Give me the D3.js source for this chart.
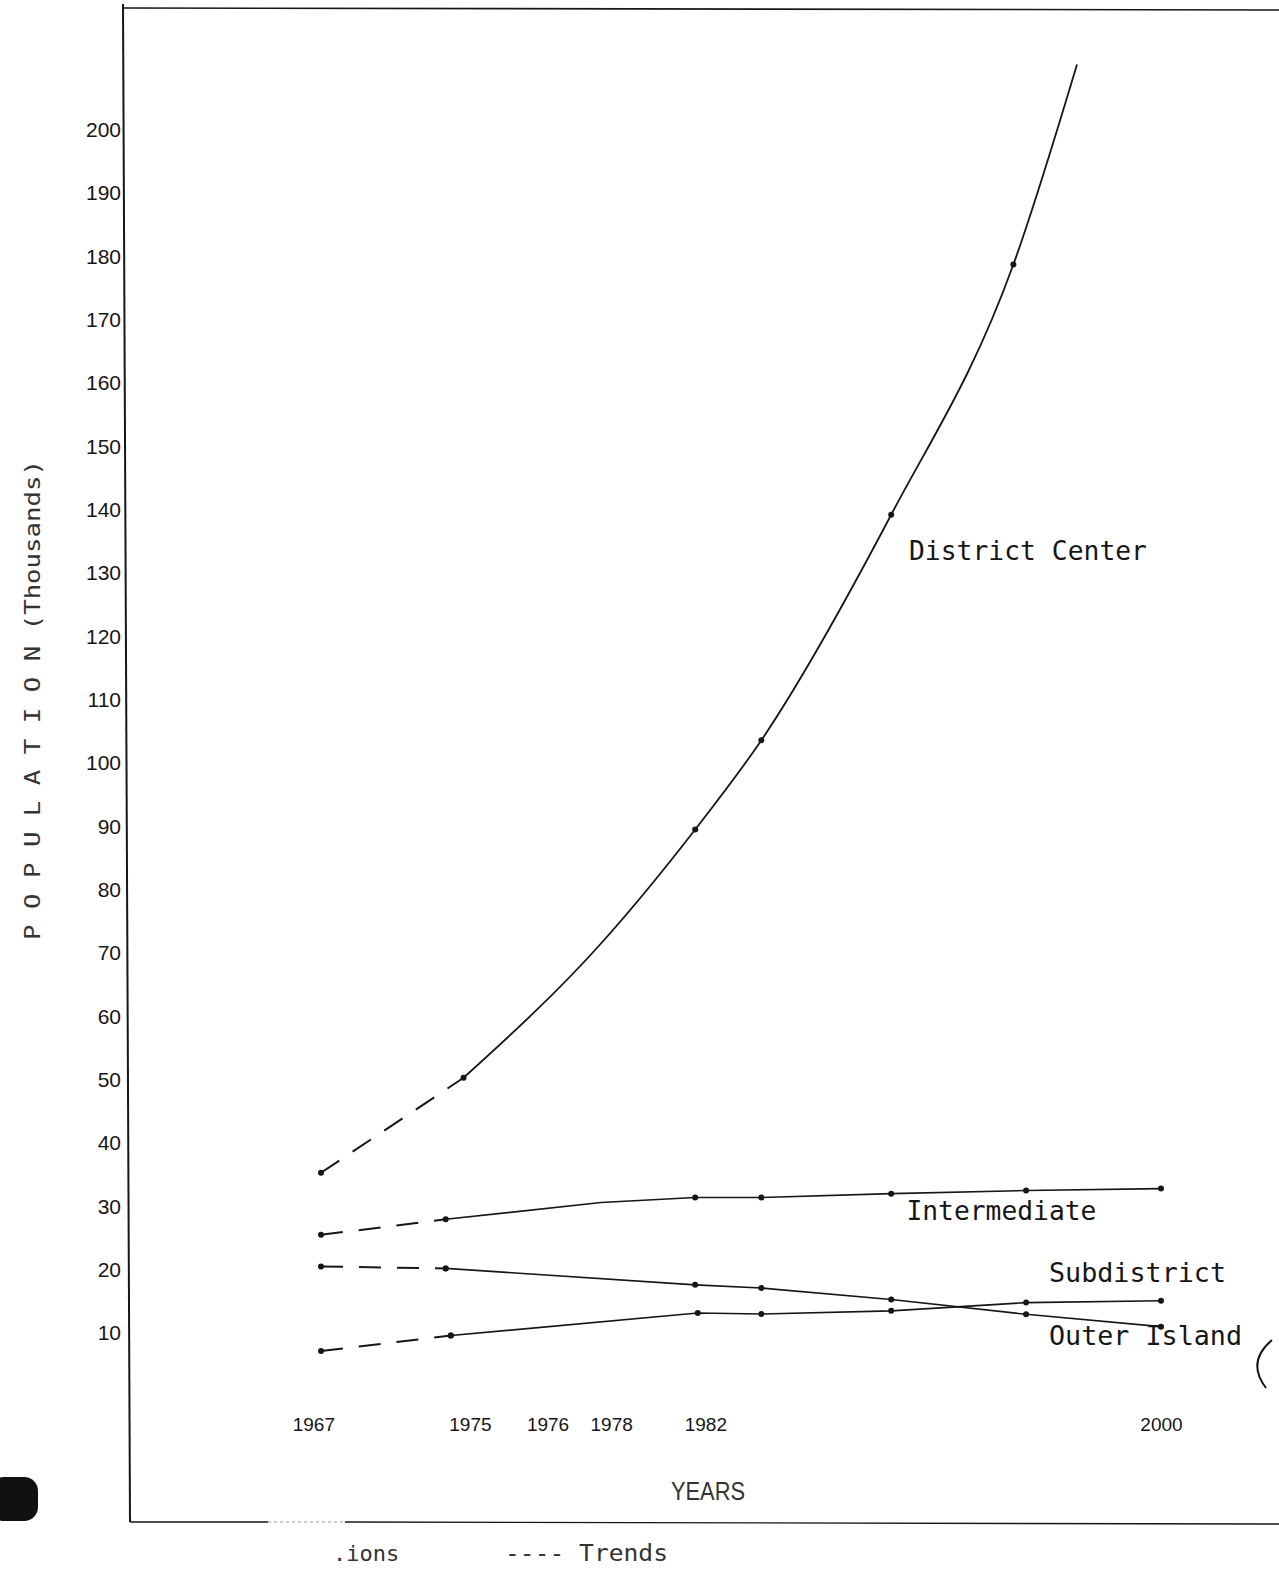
<!DOCTYPE html>
<html>
<head>
<meta charset="utf-8">
<script src="https://cdn.jsdelivr.net/npm/d3@7"></script>
<style>
  body { margin: 0; background: #fff; }
  svg { display: block; }
</style>
</head>
<body>
<script>
// values (population in thousands)
let yTicks = [10, 20, 30, 40, 50, 60, 70, 80, 90, 100, 110, 120, 130, 140, 150, 160, 170, 180, 190, 200];
let xTickYears = [1966.7, 1972.85, 1975.9, 1978.4, 1982.1, 2000];
let xTickLabels = ["1967", "1975", "1976", "1978", "1982", "2000"];

// District Center
let districtTrendYears = [1967, 1972.6];
let districtTrendValues = [35.3, 50.3];
let districtYears = [1972.6, 1978, 1981.7, 1984.3, 1989.4, 1994.2, 1996.7];
let districtValues = [50.3, 71.5, 89.5, 103.6, 139.2, 178.7, 210.3];
let districtMarked = [1972.6, 1981.7, 1984.3, 1989.4, 1994.2];

// Intermediate
let interTrendYears = [1967, 1971.9];
let interTrendValues = [25.5, 27.95];
let interYears = [1971.9, 1978, 1981.7, 1984.3, 1989.4, 1994.7, 2000];
let interValues = [27.95, 30.6, 31.4, 31.4, 32.0, 32.5, 32.8];
let interMarked = [1971.9, 1981.7, 1984.3, 1989.4, 1994.7, 2000];

// Subdistrict
let subTrendYears = [1967, 1972.1];
let subTrendValues = [7.15, 9.6];
let subYears = [1972.1, 1981.8, 1984.3, 1989.4, 1994.7, 2000];
let subValues = [9.6, 13.15, 13.0, 13.5, 14.8, 15.1];

// Outer Island
let outerTrendYears = [1967, 1971.9];
let outerTrendValues = [20.5, 20.2];
let outerYears = [1971.9, 1981.7, 1984.3, 1989.4, 1994.7, 2000];
let outerValues = [20.2, 17.6, 17.1, 15.3, 12.95, 11.0];

let labelTexts = ["District Center", "Intermediate", "Subdistrict", "Outer Island"];
let labelYears = [1990.1, 1990.0, 1995.6, 1995.6];
let labelValues = [132.1, 27.8, 18.0, 8.1];
let labelWidths = [238, 190, 177, 193];


function zip(xs, ys)
{
    return xs.map((x, i) => ({year: x, value: ys[i]}));
}


let width = 1279, height = 1569;
let frameLeft = 124, frameTop = 8, frameBottom = 1522;
let ink = "#161616";

let svg = d3.select("body").append("svg")
    .attr("width", width)
    .attr("height", height);

let x = d3.scaleLinear().domain([1967, 2000]).range([321, 1161]);
let y = d3.scaleLinear().domain([-20, 220]).range([1523, 3]);

// frame (hand ruled, the left edge leans a little)
svg.append("line")
    .attr("x1", frameLeft - 1).attr("y1", 4)
    .attr("x2", frameLeft + 6).attr("y2", frameBottom)
    .attr("stroke", ink).attr("stroke-width", 2);
svg.append("line")
    .attr("x1", frameLeft - 1).attr("y1", frameTop)
    .attr("x2", width).attr("y2", frameTop + 2)
    .attr("stroke", ink).attr("stroke-width", 1.6);
svg.append("line")
    .attr("x1", frameLeft + 6).attr("y1", frameBottom)
    .attr("x2", 268).attr("y2", frameBottom)
    .attr("stroke", ink).attr("stroke-width", 1.6);
svg.append("line")
    .attr("x1", 268).attr("y1", frameBottom)
    .attr("x2", 345).attr("y2", frameBottom)
    .attr("stroke", "#999").attr("stroke-width", 1)
    .attr("stroke-dasharray", "3,3");
svg.append("line")
    .attr("x1", 345).attr("y1", frameBottom)
    .attr("x2", width).attr("y2", frameBottom + 2)
    .attr("stroke", ink).attr("stroke-width", 1.4);

// y axis labels
let yAxis = d3.axisLeft(y).tickValues(yTicks).tickSize(0).tickPadding(0);
svg.append("g")
    .attr("transform", "translate(121,0)")
    .call(yAxis)
    .call(g => g.select(".domain").remove())
    .selectAll("text")
    .attr("font-family", "Liberation Sans, sans-serif")
    .attr("font-size", 21)
    .attr("fill", ink);

// x axis labels
let xAxis = d3.axisBottom(x).tickValues(xTickYears)
    .tickFormat((d, i) => xTickLabels[i]).tickSize(0).tickPadding(0);
svg.append("g")
    .attr("transform", "translate(0,1417)")
    .call(xAxis)
    .call(g => g.select(".domain").remove())
    .selectAll("text")
    .attr("font-family", "Liberation Sans, sans-serif")
    .attr("font-size", 19)
    .attr("fill", ink);

// lines
let straight = d3.line().x(d => x(d.year)).y(d => y(d.value));
let smooth = d3.line().x(d => x(d.year)).y(d => y(d.value)).curve(d3.curveMonotoneX);

let trends = [
    zip(districtTrendYears, districtTrendValues),
    zip(interTrendYears, interTrendValues),
    zip(subTrendYears, subTrendValues),
    zip(outerTrendYears, outerTrendValues)
];
svg.selectAll("path.trend")
    .data(trends)
    .enter()
    .append("path")
    .attr("class", "trend")
    .attr("d", straight)
    .attr("fill", "none")
    .attr("stroke", ink)
    .attr("stroke-width", 2)
    .attr("stroke-dasharray", "22,16");

svg.append("path")
    .attr("d", smooth(zip(districtYears, districtValues)))
    .attr("fill", "none")
    .attr("stroke", ink)
    .attr("stroke-width", 1.8);

let projections = [
    zip(interYears, interValues),
    zip(subYears, subValues),
    zip(outerYears, outerValues)
];
svg.selectAll("path.proj")
    .data(projections)
    .enter()
    .append("path")
    .attr("class", "proj")
    .attr("d", straight)
    .attr("fill", "none")
    .attr("stroke", ink)
    .attr("stroke-width", 1.6);

// dots
let dots = [];
zip(districtYears, districtValues).filter(d => districtMarked.includes(d.year)).forEach(d => dots.push(d));
zip(interYears, interValues).filter(d => interMarked.includes(d.year)).forEach(d => dots.push(d));
dots.push(zip(interTrendYears, interTrendValues)[0]);
dots.push(zip(districtTrendYears, districtTrendValues)[0]);
zip(subTrendYears, subTrendValues).concat(zip(subYears, subValues)).forEach(d => dots.push(d));
zip(outerTrendYears, outerTrendValues).concat(zip(outerYears, outerValues)).forEach(d => dots.push(d));

svg.selectAll("circle.dot")
    .data(dots)
    .enter()
    .append("circle")
    .attr("class", "dot")
    .attr("cx", d => x(d.year))
    .attr("cy", d => y(d.value))
    .attr("r", 3)
    .attr("fill", ink);

// series labels
svg.selectAll("text.series")
    .data(labelTexts)
    .enter()
    .append("text")
    .attr("class", "series")
    .attr("x", (d, i) => x(labelYears[i]))
    .attr("y", (d, i) => y(labelValues[i]))
    .attr("textLength", (d, i) => labelWidths[i])
    .attr("lengthAdjust", "spacingAndGlyphs")
    .attr("font-family", "DejaVu Sans Mono, monospace")
    .attr("font-size", 27)
    .attr("fill", ink)
    .text(d => d);

// axis titles
svg.append("text")
    .attr("transform", "translate(40,700) rotate(-90)")
    .attr("text-anchor", "middle")
    .attr("textLength", 480)
    .attr("lengthAdjust", "spacingAndGlyphs")
    .attr("font-family", "DejaVu Sans Mono, monospace")
    .attr("font-size", 22)
    .attr("fill", "#333")
    .text("P O P U L A T I O N (Thousands)");

svg.append("text")
    .attr("x", 708).attr("y", 1500)
    .attr("text-anchor", "middle")
    .attr("textLength", 74)
    .attr("lengthAdjust", "spacingAndGlyphs")
    .attr("font-family", "Liberation Sans, sans-serif")
    .attr("font-size", 26)
    .attr("fill", "#333")
    .text("YEARS");

// what is left of the key
svg.append("text")
    .attr("x", 333).attr("y", 1561)
    .attr("font-family", "DejaVu Sans Mono, monospace")
    .attr("font-size", 22)
    .attr("fill", "#333")
    .text(".ions");
svg.append("text")
    .attr("x", 505).attr("y", 1561)
    .attr("textLength", 163)
    .attr("lengthAdjust", "spacingAndGlyphs")
    .attr("font-family", "DejaVu Sans Mono, monospace")
    .attr("font-size", 23)
    .attr("fill", "#333")
    .text("---- Trends");

// scan marks
svg.append("rect")
    .attr("x", -10).attr("y", 1477)
    .attr("width", 48).attr("height", 44)
    .attr("rx", 14)
    .attr("fill", "#111");
svg.append("path")
    .attr("d", "M1272,1340 Q1246,1362 1266,1388")
    .attr("fill", "none")
    .attr("stroke", ink)
    .attr("stroke-width", 2);
</script>
</body>
</html>
